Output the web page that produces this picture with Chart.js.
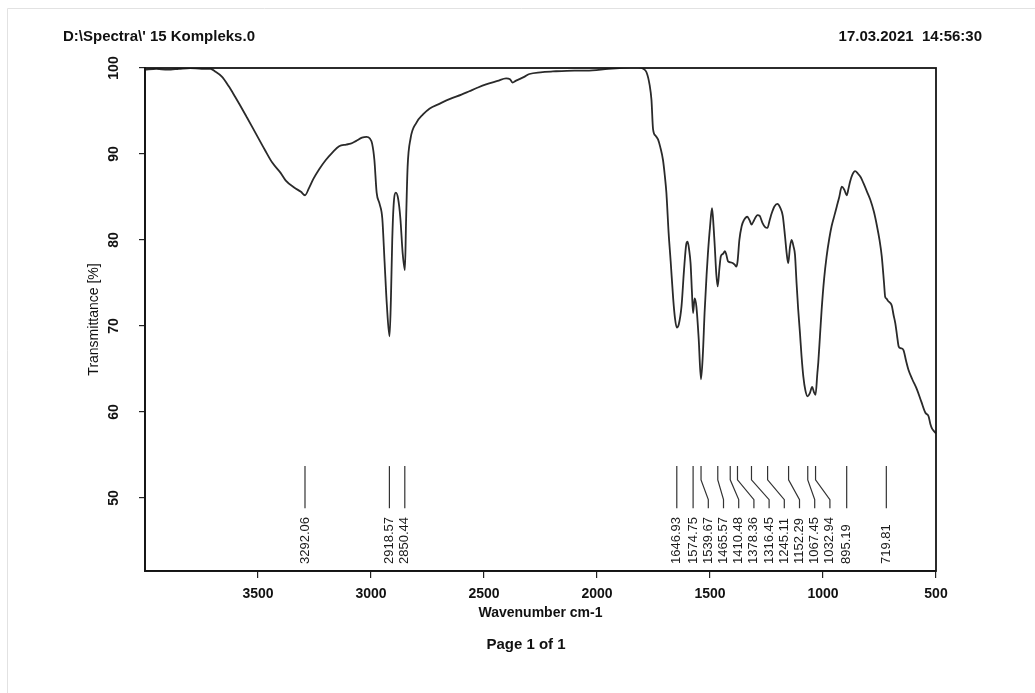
<!DOCTYPE html>
<html>
<head>
<meta charset="utf-8">
<script src="https://cdn.jsdelivr.net/npm/chart.js@4/dist/chart.umd.min.js"></script>
<style>
html,body{margin:0;padding:0;background:#fff;}
#wrap{position:relative;width:1035px;height:693px;}
canvas{display:block;}
</style>
</head>
<body>
<div id="wrap"><canvas id="c" width="1035" height="693"></canvas></div>
<script>
// ---- data ----
const wavenumbers = [
  4000,3950,3900,3850,3800,3750,3710,3690,3660,3630,3600,3580,3550,3510,3470,3437,3400,3377,3340,3310,
  3292,3275,3255,3230,3200,3170,3141,3110,3090,3067,3040,3020,3005,2995,2985,2975,2962,2950,2940,2930,
  2918,2912,2906,2900,2890,2880,2870,2860,2850,2845,2838,2825,2800,2770,2740,2700,2650,2600,2565,2530,
  2491,2440,2402,2385,2373,2360,2343,2320,2299,2250,2195,2100,2047,1950,1900,1850,1818,1795,1781,1767,
  1759,1752,1740,1730,1720,1708,1700,1693,1683,1674,1663,1655,1647,1638,1626,1615,1605,1599,1592,1586,
  1580,1575,1568,1560,1550,1540,1532,1524,1515,1509,1500,1491,1484,1479,1472,1466,1458,1452,1442,1434,
  1428,1420,1410,1398,1390,1383,1378,1370,1360,1350,1335,1325,1316,1305,1290,1280,1268,1256,1246,1236,
  1227,1215,1202,1190,1178,1168,1161,1154,1146,1139,1130,1124,1117,1110,1102,1095,1087,1078,1068,1058,
  1048,1040,1033,1025,1021,1013,1006,995,984,972,962,950,939,928,917,905,895,887,880,870,
  858,845,833,821,805,791,775,761,750,740,730,725,720,712,700,695,688,680,672,665,
  655,644,633,622,605,584,565,547,533,525,518,510,503,500
];
const transmittance = [
  99.8,99.9,99.8,99.9,100.0,99.9,99.9,99.6,99.0,97.9,96.6,95.7,94.3,92.4,90.5,89.0,87.8,86.9,86.1,85.6,
  85.2,86.0,87.1,88.2,89.3,90.2,90.9,91.1,91.2,91.5,91.9,92.0,91.8,91.2,89.3,85.5,84.2,82.5,77.5,72.5,
  68.8,73.0,80.0,84.0,85.5,84.8,82.5,78.5,76.5,82.0,88.5,91.8,93.6,94.6,95.3,95.8,96.4,96.9,97.3,97.7,
  98.1,98.5,98.8,98.7,98.3,98.5,98.7,99.0,99.3,99.5,99.6,99.7,99.7,99.9,100.0,100.1,100.1,99.9,99.5,98.0,
  96.3,92.9,92.1,91.7,90.8,89.3,87.5,85.5,80.8,77.5,73.2,70.9,69.8,70.2,72.3,76.5,79.5,79.8,78.8,77.3,
  74.0,71.5,73.2,72.2,68.5,63.8,66.5,71.5,76.0,78.5,81.5,83.7,81.5,79.3,76.0,74.6,76.8,78.1,78.4,78.7,
  78.3,77.5,77.4,77.3,77.1,76.9,77.5,80.0,81.6,82.3,82.7,82.3,81.8,82.3,82.9,82.8,82.0,81.5,81.4,82.3,
  83.1,83.9,84.2,83.8,82.8,80.4,78.5,77.3,79.2,80.0,79.2,78.3,75.0,72.0,69.2,66.5,64.1,62.5,61.8,62.2,
  62.9,62.3,62.0,64.5,65.7,69.0,71.9,75.5,78.1,80.2,81.6,82.8,83.9,85.0,86.2,85.8,85.2,86.0,86.8,87.6,
  88.0,87.7,87.3,86.6,85.6,84.7,83.3,81.6,80.0,78.1,75.0,73.4,73.2,72.9,72.6,72.3,71.3,70.3,68.8,67.6,
  67.4,67.2,66.0,64.9,63.8,62.6,61.2,59.9,59.5,58.6,58.1,57.8,57.6,57.5
];
const xTicks = [3500, 3000, 2500, 2000, 1500, 1000, 500];
const yTicks = [100, 90, 80, 70, 60, 50];
const peakPositions = [3292.06, 2918.57, 2850.44, 1646.93, 1574.75, 1539.67, 1465.57, 1410.48,
  1378.36, 1316.45, 1245.11, 1152.29, 1067.45, 1032.94, 895.19, 719.81];
const peakLabels = ["3292.06", "2918.57", "2850.44", "1646.93", "1574.75", "1539.67", "1465.57", "1410.48",
  "1378.36", "1316.45", "1245.11", "1152.29", "1067.45", "1032.94", "895.19", "719.81"];
const headerLeft = "D:\\Spectra\\' 15 Kompleks.0";
const headerRight = "17.03.2021  14:56:30";
const footerText = "Page 1 of 1";
const xTitle = "Wavenumber cm-1";
const yTitle = "Transmittance [%]";

const FONT = '"Liberation Sans", Arial, sans-serif';
Chart.defaults.font.family = FONT;
Chart.defaults.color = '#111';

const points = wavenumbers.map((w, i) => ({x: w, y: transmittance[i]}));

const decorPlugin = {
  id: 'decor',
  beforeDraw(chart) {
    const ctx = chart.ctx;
    ctx.save();
    ctx.fillStyle = '#fff';
    ctx.fillRect(0, 0, chart.width, chart.height);
    // faint scan border
    ctx.strokeStyle = '#e2e2e2';
    ctx.lineWidth = 1;
    ctx.beginPath();
    ctx.moveTo(7.5, chart.height);
    ctx.lineTo(7.5, 8.5);
    ctx.lineTo(chart.width, 8.5);
    ctx.stroke();
    // header and footer texts
    ctx.fillStyle = '#111';
    ctx.font = 'bold 15px ' + FONT;
    ctx.textBaseline = 'middle';
    ctx.textAlign = 'left';
    ctx.fillText(headerLeft, 63, 37);
    ctx.textAlign = 'right';
    ctx.fillText(headerRight, 982, 37);
    ctx.textAlign = 'center';
    ctx.fillText(footerText, 526, 645);
    ctx.restore();
  },
  afterDraw(chart) {
    const {ctx, chartArea: a, scales: {x, y}} = chart;
    ctx.save();
    // plot frame
    ctx.strokeStyle = '#151515';
    ctx.lineWidth = 1.8;
    ctx.strokeRect(a.left, a.top, a.right - a.left, a.bottom - a.top);
    // peak markers
    const yTop = y.getPixelForValue(53.7);
    const yB1 = y.getPixelForValue(52.1);
    const yB2 = y.getPixelForValue(49.8);
    const yBot = y.getPixelForValue(48.8);
    const items = peakPositions.map((v, i) => ({px: x.getPixelForValue(v), text: peakLabels[i]}))
      .sort((p, q) => p.px - q.px);
    let last = -Infinity;
    items.forEach(it => { it.lx = Math.max(it.px, last + 15.2); last = it.lx; });
    ctx.strokeStyle = '#333';
    ctx.lineWidth = 1.2;
    ctx.fillStyle = '#1a1a1a';
    ctx.font = '13px ' + FONT;
    items.forEach(it => {
      ctx.beginPath();
      ctx.moveTo(it.px, yTop);
      ctx.lineTo(it.px, yB1);
      ctx.lineTo(it.lx, yB2);
      ctx.lineTo(it.lx, yBot);
      ctx.stroke();
      ctx.save();
      ctx.translate(it.lx, a.bottom - 7);
      ctx.rotate(-Math.PI / 2);
      ctx.textAlign = 'left';
      ctx.textBaseline = 'middle';
      ctx.fillText(it.text, 0, 0);
      ctx.restore();
    });
    ctx.restore();
  }
};

new Chart(document.getElementById('c'), {
  type: 'line',
  data: {
    datasets: [{
      data: points,
      borderColor: '#2a2a2a',
      borderWidth: 1.8,
      pointRadius: 0,
      fill: false,
      cubicInterpolationMode: 'monotone'
    }]
  },
  options: {
    responsive: false,
    animation: false,
    devicePixelRatio: 1,
    layout: {padding: {left: 0, right: 99, top: 68, bottom: 0}},
    plugins: {legend: {display: false}, tooltip: {enabled: false}},
    scales: {
      x: {
        type: 'linear', min: 500, max: 4000, reverse: true,
        afterBuildTicks: s => { s.ticks = xTicks.map(v => ({value: v})); },
        afterFit: s => { s.height = 122; },
        grid: {display: true, drawOnChartArea: false, drawTicks: true, tickLength: 7, color: '#222', lineWidth: 1.2},
        border: {display: true, color: '#151515', width: 1.8},
        ticks: {font: {size: 14, weight: 'bold'}, color: '#111', padding: 8, maxRotation: 0, autoSkip: false,
          callback: v => String(v)},
        title: {display: true, text: xTitle, font: {size: 14, weight: 'bold'}, color: '#111', padding: {top: 0, bottom: 71}}
      },
      y: {
        min: 41.5, max: 100,
        afterBuildTicks: s => { s.ticks = yTicks.map(v => ({value: v})); },
        afterFit: s => { s.width = 145; },
        grid: {display: true, drawOnChartArea: false, drawTicks: true, tickLength: 6, color: '#222', lineWidth: 1.2},
        border: {display: true, color: '#151515', width: 1.8},
        ticks: {font: {size: 14, weight: 'bold'}, color: '#111', minRotation: 90, maxRotation: 90, crossAlign: 'center', padding: 13, autoSkip: false,
          callback: v => String(v)},
        title: {display: true, text: yTitle, font: {size: 14}, color: '#111', padding: {top: 86, bottom: 0}}
      }
    }
  },
  plugins: [decorPlugin]
});
</script>
</body>
</html>
